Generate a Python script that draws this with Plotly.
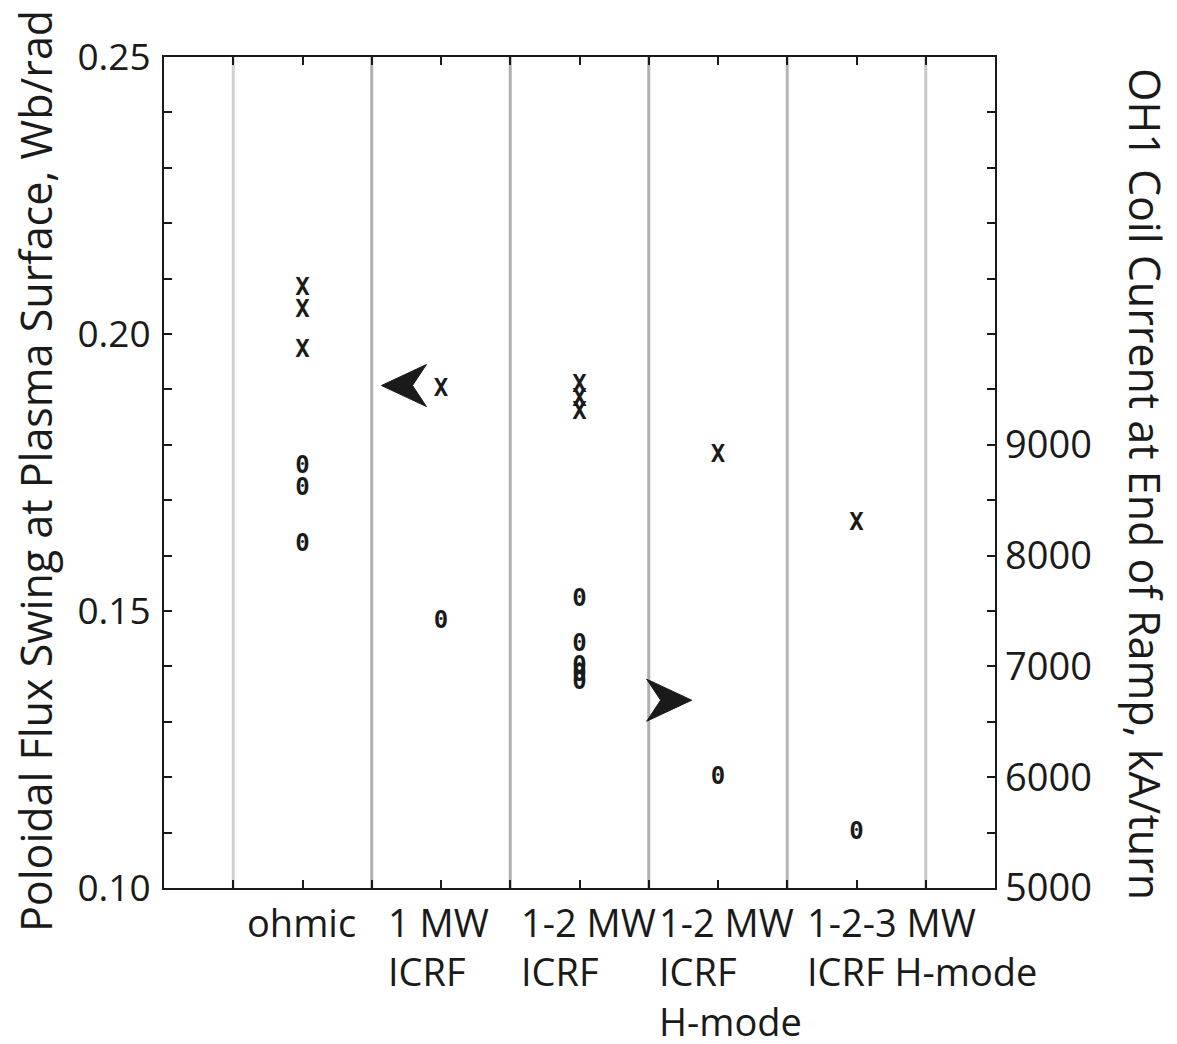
import plotly.graph_objects as go

# ---------------- data ----------------
categories = ["ohmic", "1 MW<br>ICRF", "1-2 MW<br>ICRF", "1-2 MW<br>ICRF<br>H-mode", "1-2-3 MW<br>ICRF H-mode"]
category_x = [2, 4, 6, 8, 10]
separators = [1, 3, 5, 7, 9, 11]

# flux swing (x markers), Wb/rad
flux_x = [2, 2, 2, 4, 6, 6, 6, 8, 10]
flux_y = [0.2081, 0.2042, 0.1969, 0.1899, 0.1906, 0.1881, 0.1857, 0.1780, 0.1657]

# OH1 coil current at end of ramp (o markers), shown on left scale
coil_x = [2, 2, 2, 4, 6, 6, 6, 6, 6, 8, 10]
coil_y = [0.1760, 0.1720, 0.1619, 0.1480, 0.1520, 0.1439, 0.1399, 0.1384, 0.1370, 0.1199, 0.1099]

left_ticks = [0.10, 0.15, 0.20, 0.25]
right_ticks = [5000, 6000, 7000, 8000, 9000]

# arrow annotations: (tip x, y, direction)
arrows = [(3.14, 0.1907, -1), (7.62, 0.1339, 1)]

# ---------------- style ----------------
# page body adds 8 px offset; figure sized so that the plot box lands at 164..995 x 57..888
W, H = 1169, 1036
L, R, T, B = 156, 182, 49, 156
PX0, PY1, PW, PH = 164, 888, 831, 831   # plot box in screenshot pixels
FONT = "Open Sans, Noto Sans, sans-serif"
INK = "#1a1a1a"
sep_colors = ["#d0d0d0", "#b0b0b0", "#b0b0b0", "#b0b0b0", "#b4b4b4", "#c8c8c8"]
label_xshift = [-58, -55, -61, -61, -52]

fig = go.Figure()

fig.add_trace(go.Scatter(
    x=flux_x, y=flux_y, mode="text", text=["X"] * len(flux_x),
    textposition="middle center",
    textfont=dict(family="DejaVu Sans Mono", size=24, color=INK, weight="bold"),
    showlegend=False, hoverinfo="skip"))

fig.add_trace(go.Scatter(
    x=coil_x, y=coil_y, mode="text", text=["0"] * len(coil_x),
    textposition="middle center",
    textfont=dict(family="DejaVu Sans Mono", size=24, color=INK, weight="bold"),
    showlegend=False, hoverinfo="skip"))

# invisible trace for the right axis
fig.add_trace(go.Scatter(x=[0], y=[5000], yaxis="y2", mode="markers",
                         marker=dict(opacity=0), showlegend=False, hoverinfo="skip"))

# separators
for sx, c in zip(separators, sep_colors):
    fig.add_shape(type="line", xref="x", yref="paper", x0=sx, x1=sx, y0=0, y1=1,
                  line=dict(color=c, width=3), layer="below")

# arrowheads
alen, ahalf, notch = 0.65, 0.0038, 0.69
for tx, ty, d in arrows:
    bx = tx - d * alen
    nx = tx - d * alen * notch
    path = f"M {tx},{ty} L {bx},{ty + ahalf} L {nx},{ty} L {bx},{ty - ahalf} Z"
    fig.add_shape(type="path", xref="x", yref="y", path=path,
                  fillcolor=INK, line=dict(color=INK, width=1))

# category labels
for cx_, lab, xs in zip(category_x, categories, label_xshift):
    fig.add_annotation(x=cx_, y=0, xref="x", yref="paper", text=lab, showarrow=False,
                       xanchor="left", yanchor="top", align="left", xshift=xs, yshift=-6,
                       font=dict(family=FONT, size=38, color=INK))

# axis titles
fig.add_annotation(x=(35 - PX0) / PW, y=(PY1 - 471) / PH, xref="paper", yref="paper",
                   text="Poloidal Flux Swing at Plasma Surface, Wb/rad", textangle=-90,
                   showarrow=False, xanchor="center", yanchor="middle",
                   font=dict(family=FONT, size=43, color=INK))
fig.add_annotation(x=(1146 - PX0) / PW, y=(PY1 - 484) / PH, xref="paper", yref="paper",
                   text="OH1 Coil Current at End of Ramp, kA/turn", textangle=90,
                   showarrow=False, xanchor="center", yanchor="middle",
                   font=dict(family=FONT, size=43, color=INK))

fig.update_layout(
    width=W, height=H,
    margin=dict(l=L, r=R, t=T, b=B, autoexpand=False),
    paper_bgcolor="white", plot_bgcolor="white",
    font=dict(family=FONT, color=INK),
    xaxis=dict(range=[0, 12], tickvals=list(range(1, 12)), ticktext=[""] * 11,
               ticks="inside", ticklen=8, tickwidth=2, tickcolor=INK,
               showline=True, linecolor=INK, linewidth=2, mirror="ticks",
               showgrid=False, zeroline=False),
    yaxis=dict(range=[0.10, 0.25], tickvals=left_ticks, tickformat=".2f",
               ticks="inside", ticklen=8, tickwidth=2, tickcolor=INK,
               minor=dict(dtick=0.01, ticks="inside", ticklen=8, tickwidth=2, tickcolor=INK, showgrid=False),
               showline=True, linecolor=INK, linewidth=2, mirror="ticks",
               showgrid=False, zeroline=False, ticklabelstandoff=4,
               tickfont=dict(family=FONT, size=37, color=INK)),
    yaxis2=dict(range=[5000, 12500], overlaying="y", side="right", tickvals=right_ticks,
                ticks="", showgrid=False, zeroline=False, showline=False, ticklabelstandoff=9,
                tickfont=dict(family=FONT, size=38, color=INK)),
)

fig.write_html("out.html")
